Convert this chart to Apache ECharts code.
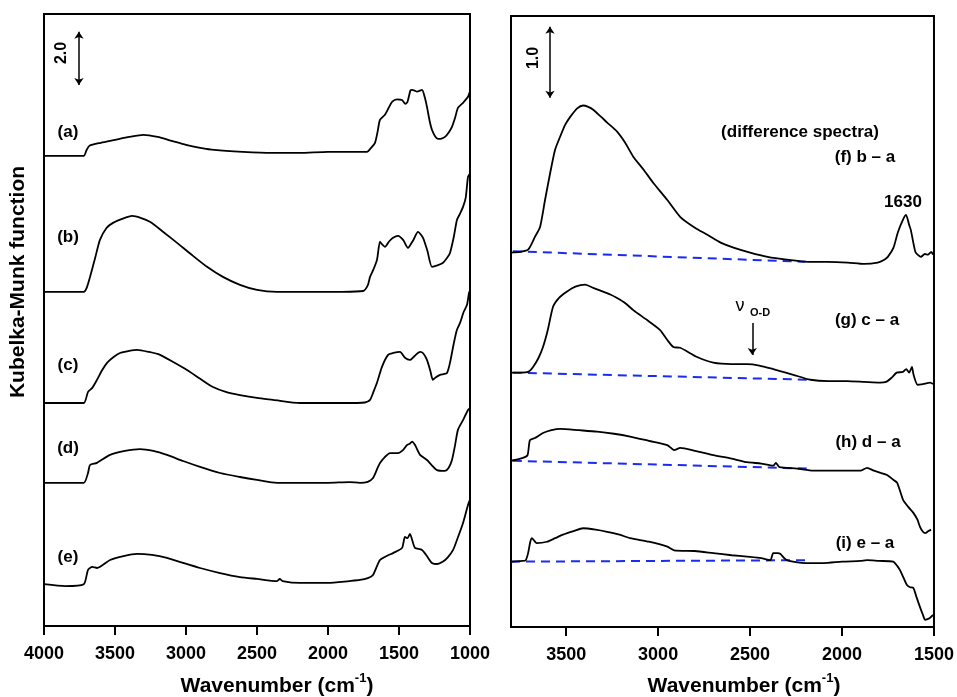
<!DOCTYPE html>
<html><head><meta charset="utf-8">
<script src="https://cdn.jsdelivr.net/npm/echarts@6/dist/echarts.min.js"></script>
<style>html,body{margin:0;padding:0;background:#fff}#c{width:957px;height:697px}</style>
</head><body><div id="c"></div>
<script>
// ---------- Left panel: raw spectra (offset stacked) ----------
const aWn = [4000,3850,3720,3700,3680,3600,3500,3400,3300,3200,3100,3000,2900,2800,2600,2400,2200,2000,1800,1725,1700,1669,1650,1634,1599,1570,1549,1514,1479,1455,1440,1420,1408,1390,1373,1338,1320,1303,1285,1268,1245,1225,1200,1176,1150,1127,1105,1085,1049,1030,1014,1000];
const aVal = [17.67,17.67,17.67,17.89,18.05,18.16,18.27,18.38,18.46,18.38,18.23,18.08,17.97,17.89,17.82,17.78,17.78,17.82,17.82,17.82,17.95,18.16,18.6,19.02,19.21,19.5,19.70,19.79,19.77,19.62,19.70,20.12,20.15,20.12,20.08,20.15,19.9,19.51,19.0,18.65,18.40,18.31,18.32,18.38,18.55,18.76,19.1,19.47,19.66,19.78,19.89,20.1];
const bWn = [4000,3850,3720,3700,3676,3640,3606,3560,3514,3450,3380,3320,3254,3160,3063,2960,2852,2740,2620,2500,2359,2100,1900,1753,1720,1704,1680,1655,1634,1620,1599,1570,1542,1507,1470,1437,1400,1366,1331,1300,1268,1230,1190,1160,1141,1115,1092,1070,1049,1030,1014,1000];
const bVal = [12.56,12.56,12.56,12.70,13.12,13.83,14.51,14.96,15.15,15.30,15.41,15.34,15.19,14.81,14.40,13.95,13.50,13.12,12.82,12.63,12.56,12.56,12.56,12.59,12.8,13.12,13.4,13.76,14.44,14.35,14.25,14.45,14.59,14.66,14.5,14.21,14.5,14.81,14.59,14.1,13.50,13.55,13.65,13.85,14.02,14.6,15.26,15.5,15.75,16.1,16.88,17.0];
const cWn = [4000,3850,3720,3690,3660,3627,3590,3556,3510,3465,3400,3345,3260,3183,3090,2993,2900,2810,2720,2620,2500,2387,2197,1900,1740,1704,1680,1655,1620,1577,1540,1493,1458,1423,1390,1352,1330,1303,1280,1261,1240,1211,1185,1162,1141,1115,1092,1070,1045,1021,1007,1000];
const cVal = [8.38,8.38,8.38,8.80,8.95,9.25,9.62,9.89,10.11,10.26,10.34,10.38,10.30,10.19,9.92,9.62,9.29,8.98,8.80,8.68,8.57,8.50,8.38,8.38,8.40,8.50,8.8,9.14,9.74,10.19,10.26,10.30,10.08,10.00,10.15,10.30,10.25,10.00,9.6,9.25,9.35,9.44,9.47,9.51,9.89,10.6,11.13,11.39,11.8,12.07,12.52,12.6];
const dWn = [4000,3850,3720,3690,3676,3627,3535,3430,3324,3230,3134,3020,2901,2760,2620,2500,2359,2000,1850,1775,1720,1683,1650,1634,1600,1563,1507,1470,1444,1425,1408,1387,1352,1303,1270,1232,1176,1150,1127,1105,1085,1049,1014,1000];
const dVal = [5.38,5.38,5.38,5.75,6.05,6.13,6.43,6.58,6.65,6.58,6.43,6.20,5.98,5.75,5.60,5.49,5.38,5.38,5.41,5.38,5.42,5.56,5.95,6.13,6.35,6.50,6.50,6.62,6.80,6.85,6.93,6.80,6.43,6.24,6.05,5.86,5.83,5.95,6.24,6.8,7.37,7.74,8.12,8.2];
const eWn = [4000,3850,3720,3690,3660,3627,3535,3440,3345,3240,3134,3020,2901,2760,2620,2500,2359,2340,2320,2197,2000,1850,1775,1720,1683,1634,1580,1542,1479,1458,1440,1423,1400,1387,1338,1300,1268,1232,1190,1155,1120,1092,1049,1014,1000];
const eVal = [1.57,1.50,1.57,2.11,2.22,2.18,2.48,2.63,2.71,2.67,2.56,2.37,2.18,1.99,1.84,1.77,1.69,1.77,1.69,1.62,1.62,1.69,1.73,1.80,1.92,2.48,2.65,2.74,2.93,3.35,3.30,3.46,3.10,2.93,2.86,2.60,2.37,2.33,2.42,2.59,2.85,3.23,3.87,4.55,4.75];

// ---------- Right panel: difference spectra ----------
const fWn = [3800,3750,3707,3670,3642,3615,3587,3560,3533,3505,3478,3440,3408,3380,3353,3310,3277,3222,3180,3135,3080,3026,2950,2879,2800,2732,2660,2590,2500,2405,2300,2187,2080,1969,1880,1806,1770,1751,1720,1697,1669,1652,1635,1626,1610,1599,1571,1550,1533,1515,1505];
const fVal = [5.27,5.28,5.31,5.49,5.63,6.01,6.39,6.72,6.90,7.07,7.18,7.30,7.34,7.32,7.28,7.18,7.10,6.97,6.82,6.62,6.44,6.25,6.01,5.77,5.62,5.52,5.41,5.34,5.27,5.21,5.17,5.14,5.14,5.13,5.11,5.13,5.17,5.21,5.34,5.55,5.73,5.80,5.66,5.59,5.38,5.27,5.21,5.25,5.24,5.28,5.24];
const gWn = [3800,3750,3707,3680,3650,3626,3600,3571,3540,3497,3450,3397,3350,3299,3260,3223,3180,3135,3060,2989,2950,2917,2880,2788,2700,2600,2516,2450,2374,2320,2265,2172,2073,1973,1880,1794,1760,1730,1703,1669,1651,1635,1620,1611,1589,1560,1521,1505];
const gVal = [3.58,3.58,3.59,3.66,3.79,3.94,4.18,4.51,4.63,4.72,4.79,4.82,4.77,4.72,4.68,4.63,4.56,4.46,4.32,4.18,4.04,3.94,3.93,3.80,3.72,3.70,3.70,3.68,3.63,3.59,3.55,3.48,3.46,3.46,3.45,3.44,3.45,3.51,3.58,3.59,3.63,3.58,3.66,3.55,3.41,3.42,3.44,3.42];
const hWn = [3800,3735,3710,3697,3670,3626,3580,3533,3430,3332,3240,3152,3050,2950,2913,2880,2800,2700,2600,2516,2440,2374,2360,2340,2245,2155,2050,1950,1900,1864,1827,1790,1755,1720,1700,1668,1640,1613,1590,1576,1560,1548,1530,1516];
const hVal = [2.34,2.38,2.42,2.63,2.66,2.73,2.77,2.79,2.77,2.75,2.72,2.68,2.62,2.56,2.49,2.52,2.48,2.42,2.37,2.32,2.30,2.27,2.31,2.25,2.23,2.20,2.20,2.20,2.20,2.24,2.20,2.17,2.14,2.07,2.03,1.79,1.69,1.61,1.51,1.41,1.34,1.32,1.35,1.37];
const iWn = [3800,3740,3720,3707,3695,3686,3660,3604,3560,3517,3460,3408,3340,3277,3210,3152,3050,2950,2913,2800,2700,2600,2516,2440,2390,2374,2350,2336,2300,2200,2100,2000,1900,1864,1800,1722,1700,1685,1665,1647,1630,1612,1595,1576,1560,1548,1535,1521,1505];
const iVal = [0.92,0.93,0.94,1.04,1.20,1.25,1.18,1.20,1.25,1.30,1.35,1.39,1.37,1.34,1.30,1.25,1.20,1.13,1.08,1.07,1.04,1.01,0.99,0.97,0.94,1.04,1.04,1.03,0.94,0.90,0.90,0.92,0.93,0.94,0.93,0.92,0.86,0.80,0.69,0.59,0.56,0.55,0.42,0.28,0.17,0.10,0.11,0.13,0.17];

// dashed baselines (start, end) for difference spectra
const fBaseWn = [3790, 2200], fBaseVal = [5.29, 5.14];
const gBaseWn = [3790, 2175], gBaseVal = [3.58, 3.48];
const hBaseWn = [3790, 2183], hBaseVal = [2.34, 2.23];
const iBaseWn = [3800, 2200], iBaseVal = [0.92, 0.94];

// axis ticks
const leftTicks = [4000, 3500, 3000, 2500, 2000, 1500, 1000];
const rightTicks = [3500, 3000, 2500, 2000, 1500];

// scale bars / markers
const leftBarWn = 3754, leftBarFrom = 20.33, leftBarTo = 22.33;   // "2.0"
const rightBarWn = 3588, rightBarFrom = 7.45, rightBarTo = 8.45;  // "1.0"
const odWn = 2488, odFrom = 4.28, odTo = 3.83;                     // nu O-D arrow

const zip = (x, y) => x.map((v, k) => [v, y[k]]);
const FONT = '"Liberation Sans", Arial, sans-serif';

function spec(xi, wn, val) {
  return { type: 'line', xAxisIndex: xi, yAxisIndex: xi, data: zip(wn, val),
    showSymbol: false, smooth: 0.22, silent: true,
    lineStyle: { color: '#000', width: 1.8 } };
}
function base(wn, val) {
  return { type: 'line', xAxisIndex: 1, yAxisIndex: 1, data: zip(wn, val),
    showSymbol: false, silent: true, z: 3,
    lineStyle: { color: '#1a2cf0', width: 2, type: [9, 6] } };
}
function arrowLine(xi, wn, y0, y1, sym) {
  return { type: 'line', xAxisIndex: xi, yAxisIndex: xi, data: [], silent: true,
    markLine: { silent: true, animation: false, symbol: sym, symbolSize: 7,
      label: { show: false },
      lineStyle: { color: '#000', width: 1.5, type: 'solid' },
      data: [[{ coord: [wn, y0] }, { coord: [wn, y1] }]] } };
}

const chart = echarts.init(document.getElementById('c'), null, { renderer: 'canvas' });

const axisCommon = {
  type: 'value', inverse: true, splitLine: { show: false },
  axisLine: { show: true, lineStyle: { color: '#000', width: 2 } },
  axisTick: { show: true, inside: false, length: 9, lineStyle: { color: '#000', width: 2 } },
  axisLabel: { color: '#000', fontSize: 18, fontWeight: 'bold', fontFamily: FONT, margin: 19,
    formatter: v => String(v) }
};

function txt(x, y, s, opts, rot) {
  return { type: 'text', x: x, y: y, rotation: rot || 0, silent: true,
    style: Object.assign({ text: s, fill: '#000', font: 'bold 17px ' + FONT, align: 'center', verticalAlign: 'middle' }, opts || {}) };
}
function title(x) {
  return { type: 'text', x: x, y: 686, silent: true,
    style: { rich: { m: { font: 'bold 21px ' + FONT, fill: '#000' }, s: { font: 'bold 13px ' + FONT, fill: '#000', padding: [0, 0, 15, 0] } },
      text: '{m|Wavenumber (cm}{s|-1}{m|)}', align: 'center', verticalAlign: 'middle' } };
}

chart.setOption({
  animation: false,
  backgroundColor: '#fff',
  grid: [
    { left: 44, top: 14, width: 426, height: 612, show: true, borderColor: '#000', borderWidth: 2 },
    { left: 511, top: 16, width: 423, height: 611, show: true, borderColor: '#000', borderWidth: 2 }
  ],
  xAxis: [
    Object.assign({}, axisCommon, { gridIndex: 0, min: 1000, max: 4000, interval: 500,
      axisTick: Object.assign({}, axisCommon.axisTick, { customValues: leftTicks }),
      axisLabel: Object.assign({}, axisCommon.axisLabel, { customValues: leftTicks }) }),
    Object.assign({}, axisCommon, { gridIndex: 1, min: 1500, max: 3800,
      axisTick: Object.assign({}, axisCommon.axisTick, { customValues: rightTicks }),
      axisLabel: Object.assign({}, axisCommon.axisLabel, { customValues: rightTicks }) })
  ],
  yAxis: [
    { type: 'value', gridIndex: 0, min: 0, max: 23, show: false, splitLine: { show: false } },
    { type: 'value', gridIndex: 1, min: 0, max: 8.6, show: false, splitLine: { show: false } }
  ],
  series: [
    spec(0, aWn, aVal), spec(0, bWn, bVal), spec(0, cWn, cVal), spec(0, dWn, dVal), spec(0, eWn, eVal),
    base(fBaseWn, fBaseVal), base(gBaseWn, gBaseVal), base(hBaseWn, hBaseVal), base(iBaseWn, iBaseVal),
    spec(1, fWn, fVal), spec(1, gWn, gVal), spec(1, hWn, hVal), spec(1, iWn, iVal),
    arrowLine(0, leftBarWn, leftBarFrom, leftBarTo, ['arrow', 'arrow']),
    arrowLine(1, rightBarWn, rightBarFrom, rightBarTo, ['arrow', 'arrow']),
    arrowLine(1, odWn, odFrom, odTo, ['none', 'arrow'])
  ],
  graphic: [
    txt(18, 282, 'Kubelka-Munk function', { font: 'bold 21px ' + FONT }, Math.PI / 2),
    txt(62, 53, '2.0', { font: 'bold 16px ' + FONT }, Math.PI / 2),
    txt(534, 58, '1.0', { font: 'bold 16px ' + FONT }, Math.PI / 2),
    txt(68, 132, '(a)'), txt(68, 237, '(b)'), txt(68, 365, '(c)'), txt(68, 448, '(d)'), txt(68, 557, '(e)'),
    txt(800, 132, '(difference spectra)'),
    txt(865, 157, '(f) b – a'),
    txt(903, 202, '1630'),
    txt(867, 320, '(g) c – a'),
    txt(868, 442, '(h) d – a'),
    txt(865, 543, '(i) e – a'),
    txt(740, 306, 'ν', { font: '18px ' + FONT }),
    txt(760, 313, 'O-D', { font: 'bold 11px ' + FONT }),
    title(277),
    title(744)
  ]
});
</script>
</body></html>
